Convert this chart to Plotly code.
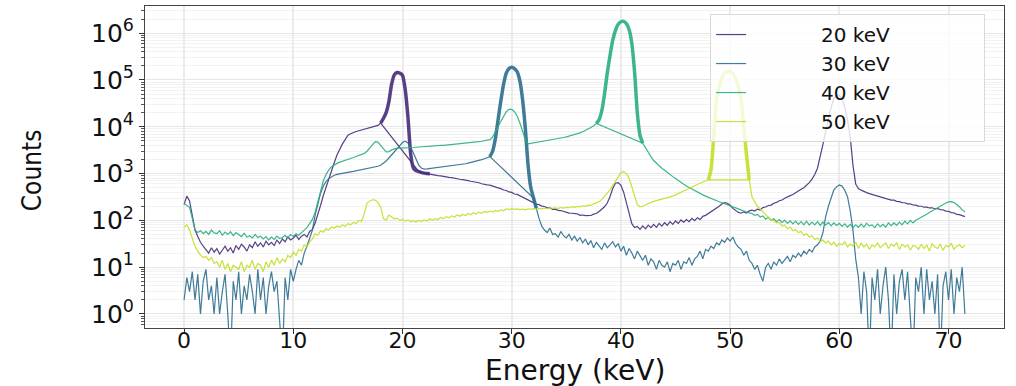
import numpy as np
import plotly.graph_objects as go

# energy channels (keV), 0.25 keV bins from 0 to 71.5
energy = np.round(np.arange(0, 71.5 + 1e-9, 0.25), 2)

labels = ['20 keV', '30 keV', '40 keV', '50 keV']
colors = ['#472c7a', '#2c6e8e', '#29af7f', '#c2df23']

counts_20 = [
    220, 330, 260, 120, 62, 45, 34, 28, 24, 20, 26, 21, 25, 19, 23, 28,
    22, 26, 20, 29, 24, 31, 27, 22, 30, 26, 35, 28, 33, 27, 36, 30,
    34, 29, 38, 32, 40, 35, 44, 38, 42, 48, 39, 46, 50, 44, 58, 64,
    88, 130, 210, 340, 520, 800, 1200, 1700, 2500, 3400, 4300, 5300,
    6600, 7100, 7600, 7900, 8200, 8500, 8800, 9200, 9500, 9900, 10300, 10700,
    12000, 15000, 20000, 34000, 80000, 128000, 144000, 140000,
    125000, 62000, 16000, 2600, 1300, 1150, 1100, 1050,
    1020, 1000, 985, 955, 935, 905, 895, 865, 855, 825, 815, 785,
    780, 755, 745, 715, 705, 685, 675, 645, 635, 605, 600, 575,
    565, 535, 525, 495, 475, 445, 435, 405, 395, 365, 358, 335,
    312, 286, 272, 250, 242, 222, 217, 202, 198, 186, 184, 172,
    174, 164, 162, 154, 152, 143, 142, 138, 138, 128, 130, 126,
    128, 127, 136, 140, 155, 170, 195, 235, 320, 480, 620, 640,
    560, 400, 230, 130, 85, 70, 74, 64, 76, 66, 79, 70,
    82, 71, 86, 75, 89, 78, 94, 82, 97, 86, 102, 91,
    104, 94, 110, 98, 114, 104, 122, 128, 140, 150, 165, 178,
    200, 225, 240, 232, 210, 180, 160, 148, 142, 152, 143, 160,
    166, 158, 174, 166, 187, 193, 208, 212, 232, 242, 263, 272,
    298, 312, 338, 356, 392, 418, 462, 498, 560, 640, 760, 950,
    1300, 2200, 4200, 8000, 15000, 26000, 40000, 48000,
    47000, 40000, 26000, 14000, 6000, 1500, 600, 480,
    442, 408, 392, 372, 358, 337, 332, 314, 308, 291, 287, 271,
    270, 255, 252, 240, 238, 225, 224, 213, 212, 201, 200, 191,
    192, 184, 186, 177, 179, 170, 168, 158, 156, 146, 144, 134,
    132, 124, 120,
]

counts_30 = [
    2, 6, 3, 8, 2, 7, 1, 5, 9, 2, 4, 1, 6, 1, 3, 7,
    1, 0.1, 5, 2, 8, 1, 4, 2, 7, 3, 1, 9, 2, 6, 1, 4,
    8, 3, 5, 1, 0.1, 6, 2, 9, 5, 9, 14, 11, 20, 28, 42, 62,
    130, 240, 380, 540, 680, 780, 860, 920, 960, 990, 1010, 1040,
    1060, 1090, 1110, 1140, 1170, 1200, 1230, 1260, 1300, 1340, 1380, 1430,
    1500, 1650, 1850, 2150, 2500, 2900, 3400, 4000,
    4600, 4900, 4500, 3700, 2700, 1900, 1500, 1300,
    1250, 1260, 1280, 1300, 1320, 1340, 1360, 1380, 1400, 1420, 1450, 1480,
    1500, 1540, 1580, 1620, 1670, 1720, 1770, 1830, 1900, 1980, 2070, 2180,
    2300, 3000, 5500, 14000, 35000, 80000, 140000, 175000,
    186000, 175000, 150000, 95000, 37000, 9000, 1500, 500,
    300, 180, 110, 75, 62, 55, 68, 50, 52, 44, 58, 47,
    42, 50, 38, 46, 36, 43, 33, 40, 30, 37, 26, 34,
    28, 24, 33, 26, 30, 35, 27, 32, 22, 28, 18, 25,
    20, 15, 22, 17, 14, 18, 11, 15, 13, 9, 14, 11,
    10, 13, 8, 12, 11, 14, 9, 13, 12, 16, 11, 15,
    17, 22, 15, 24, 22, 28, 25, 33, 30, 38, 34, 42,
    36, 44, 32, 27, 24, 18, 22, 14, 12, 9, 11, 7,
    5, 10, 12, 9, 13, 11, 15, 12, 14, 17, 13, 18,
    16, 20, 17, 22, 19, 24, 21, 27, 30, 36, 55, 120,
    200, 320, 450, 520, 570, 540, 440, 320, 160, 62, 15, 6,
    1, 8, 3, 0.1, 6, 2, 9, 1, 4, 10, 2, 0.1, 7, 1, 5, 9,
    2, 8, 1, 0.1, 6, 3, 10, 1, 9, 2, 5, 1, 7, 0.1, 4, 8,
    2, 9, 1, 6, 3, 10, 1,
]

counts_40 = [
    230, 210, 190, 110, 62, 55, 60, 52, 58, 50, 62, 54, 52, 60, 48, 56,
    50, 57, 47, 55, 49, 45, 53, 44, 47, 42, 50, 43, 46, 40, 45, 38,
    44, 39, 46, 41, 43, 48, 42, 50, 46, 52, 48, 56, 62, 70, 85, 105,
    150, 260, 450, 700, 950, 1200, 1400, 1550, 1650, 1750, 1850, 1950,
    2000, 2100, 2200, 2300, 2400, 2550, 2700, 3000, 3500, 4300, 4800, 4700,
    4100, 3400, 2900, 2950, 3200, 3400, 3500, 3500,
    3500, 3500, 3550, 3600, 3600, 3650, 3700, 3700,
    3750, 3800, 3850, 3900, 3900, 3950, 4000, 4000, 4050, 4100, 4150, 4200,
    4200, 4300, 4350, 4400, 4500, 4550, 4650, 4700, 4800, 4900, 5000, 5100,
    5300, 6000, 7500, 10000, 13000, 17000, 21000, 23500,
    23500, 21000, 17000, 12000, 7500, 5200, 4300, 4400,
    4500, 4600, 4700, 4800, 4900, 5000, 5150, 5300, 5450, 5600, 5750, 5900,
    6100, 6300, 6500, 6700, 7000, 7400, 7800, 8300, 8900, 9600, 10500, 11800,
    14000, 22000, 50000, 140000, 330000, 700000, 1150000, 1550000,
    1750000, 1780000, 1600000, 1200000, 600000, 150000, 20000, 6500,
    4450, 3500, 2800, 2300, 1900, 1650, 1450, 1300, 1180, 1050, 950, 860,
    780, 700, 640, 590, 540, 500, 460, 430, 400, 370, 350, 330,
    310, 290, 275, 262, 250, 238, 225, 212, 200, 192, 185, 176,
    165, 158, 150, 145, 140, 128, 134, 118, 124, 106, 116, 100,
    108, 94, 104, 90, 100, 86, 98, 84, 96, 82, 94, 80,
    96, 79, 92, 80, 94, 78, 92, 79, 90, 76, 88, 78,
    86, 74, 84, 72, 82, 70, 80, 71, 84, 72, 86, 76,
    80, 70, 84, 73, 82, 72, 88, 77, 88, 78, 92, 80,
    96, 84, 100, 88, 100, 108, 115, 124, 135, 148, 160, 175,
    190, 205, 220, 235, 248, 250, 240, 220, 195, 170, 150,
]

counts_50 = [
    72, 80, 62, 40, 28, 22, 18, 16, 17, 14, 16, 12, 13, 10, 14, 9,
    12, 8, 11, 10, 9, 13, 8, 11, 10, 14, 9, 12, 11, 8, 13, 10,
    14, 11, 16, 12, 15, 13, 18, 16, 21, 18, 24, 22, 30, 27, 35, 40,
    52, 48, 60, 56, 66, 62, 72, 68, 76, 72, 80, 75, 85, 80, 90, 86,
    100, 96, 140, 230, 260, 275, 270, 240, 190, 110, 100, 130, 118, 108, 112, 100,
    105, 96, 102, 94, 98, 92, 100, 95, 102, 97, 108, 101, 110, 104, 115, 108,
    120, 113, 125, 118, 130, 122, 134, 127, 140, 132, 145, 137, 150, 142, 155, 148,
    158, 150, 163, 156, 168, 160, 175, 170, 178, 172, 176, 170, 174, 168, 177, 172,
    178, 173, 180, 176, 182, 177, 185, 180, 184, 180, 188, 183, 190, 186, 195, 190,
    198, 194, 205, 200, 212, 208, 225, 235, 250, 280, 320, 380, 450, 560, 720, 900,
    1050, 1100, 1000, 800, 520, 300, 220, 195, 200, 215, 230, 245, 255, 265, 275, 282,
    290, 300, 315, 330, 350, 370, 395, 420, 450, 480, 515, 550, 590, 620, 660, 700,
    730, 1200, 6000, 40000, 72000, 110000, 140000, 150000,
    152000, 138000, 110000, 72000, 40000, 10000, 2500, 730,
    320, 250, 200, 175, 150, 130, 115, 100, 100, 88, 90, 76, 80, 66, 72, 60,
    64, 55, 58, 48, 52, 44, 47, 39, 42, 35, 38, 33, 36, 30, 34, 28,
    32, 30, 35, 27, 31, 28, 34, 25, 33, 27, 31, 24, 30, 27, 33, 26,
    29, 33, 25, 31, 28, 33, 24, 31, 27, 30, 23, 29, 28, 24, 31, 25,
    30, 22, 32, 27, 25, 31, 23, 29, 27, 32, 24, 28, 30, 26, 29,
]

# (thin line bridges the gap, thick line spans the photopeak)
bridges = [(18.0, 21.5), (28.0, 32.0), (37.75, 42.0), (48.0, 51.75)]
peaks = [(18.0, 22.5), (28.0, 32.25), (37.75, 42.0), (48.0, 51.75)]

series = [counts_20, counts_30, counts_40, counts_50]

# padding so the legend box is as wide as the original one
PAD_LEFT = '\u00a0' * 11
PAD_RIGHT = '\u00a0' * 14

fig = go.Figure()
for label, color, counts, bridge, peak in zip(labels, colors, series, bridges, peaks):
    counts = np.array(counts, dtype=float)
    assert len(counts) == len(energy), (label, len(counts))
    thin = (energy <= bridge[0]) | (energy >= bridge[1])
    thick = (energy >= peak[0]) & (energy <= peak[1])
    fig.add_trace(go.Scatter(
        x=energy[thin], y=counts[thin], mode='lines',
        name=PAD_LEFT + label + PAD_RIGHT,
        legendgroup=label, line=dict(color=color, width=1.2), opacity=0.9,
    ))
    fig.add_trace(go.Scatter(
        x=energy[thick], y=counts[thick], mode='lines', name=label,
        legendgroup=label, showlegend=False,
        line=dict(color=color, width=3.5, shape='spline', smoothing=0.5), opacity=0.9,
    ))

decades = list(range(0, 7))
fig.update_layout(
    width=1016,
    height=386,
    margin=dict(l=145, r=12, t=6, b=58),
    plot_bgcolor='#ffffff',
    paper_bgcolor='#ffffff',
    font=dict(family='DejaVu Sans', size=20, color='#111111'),
    showlegend=True,
    legend=dict(
        x=0.978, y=0.975, xanchor='right', yanchor='top',
        bgcolor='rgba(255,255,255,0.8)', bordercolor='#d9d9d9', borderwidth=1,
        font=dict(size=20), tracegroupgap=0,
    ),
    xaxis=dict(
        range=[-3.58, 75.08],
        tickvals=[0, 10, 20, 30, 40, 50, 60, 70],
        ticks='outside', ticklen=5, tickcolor='#333333',
        showline=True, linecolor='#444444', mirror=True,
        showgrid=True, gridcolor='#ebebeb', gridwidth=1.5,
        zeroline=False, automargin=False,
        tickfont=dict(size=22), ticklabelstandoff=-12,
    ),
    yaxis=dict(
        type='log',
        range=[-0.3, 6.58],
        tickvals=[10 ** d for d in decades],
        ticktext=[f'10<sup>{d}</sup>' for d in decades],
        ticks='outside', ticklen=5, tickcolor='#333333',
        showline=True, linecolor='#444444', mirror=True,
        showgrid=True, gridcolor='#e6e6e6', gridwidth=1,
        zeroline=False, automargin=False,
        tickfont=dict(size=25),
        minor=dict(ticks='outside', ticklen=3, tickcolor='#555555',
                   showgrid=True, gridcolor='#f2f2f2', dtick='D1'),
    ),
    annotations=[
        dict(text='Energy (keV)', xref='paper', yref='paper', x=0.5, y=-0.132,
             xanchor='center', yanchor='middle', showarrow=False,
             font=dict(size=28)),
        dict(text='Counts', xref='paper', yref='paper', x=-0.1315, y=0.49,
             xanchor='center', yanchor='middle', showarrow=False, textangle=-90,
             font=dict(family='DejaVu Sans Condensed, Liberation Sans Narrow, DejaVu Sans', size=26)),
    ],
)

fig.write_html(
    'out.html',
    config={'displayModeBar': False},
    post_script="document.body.style.margin = '0';",
)
